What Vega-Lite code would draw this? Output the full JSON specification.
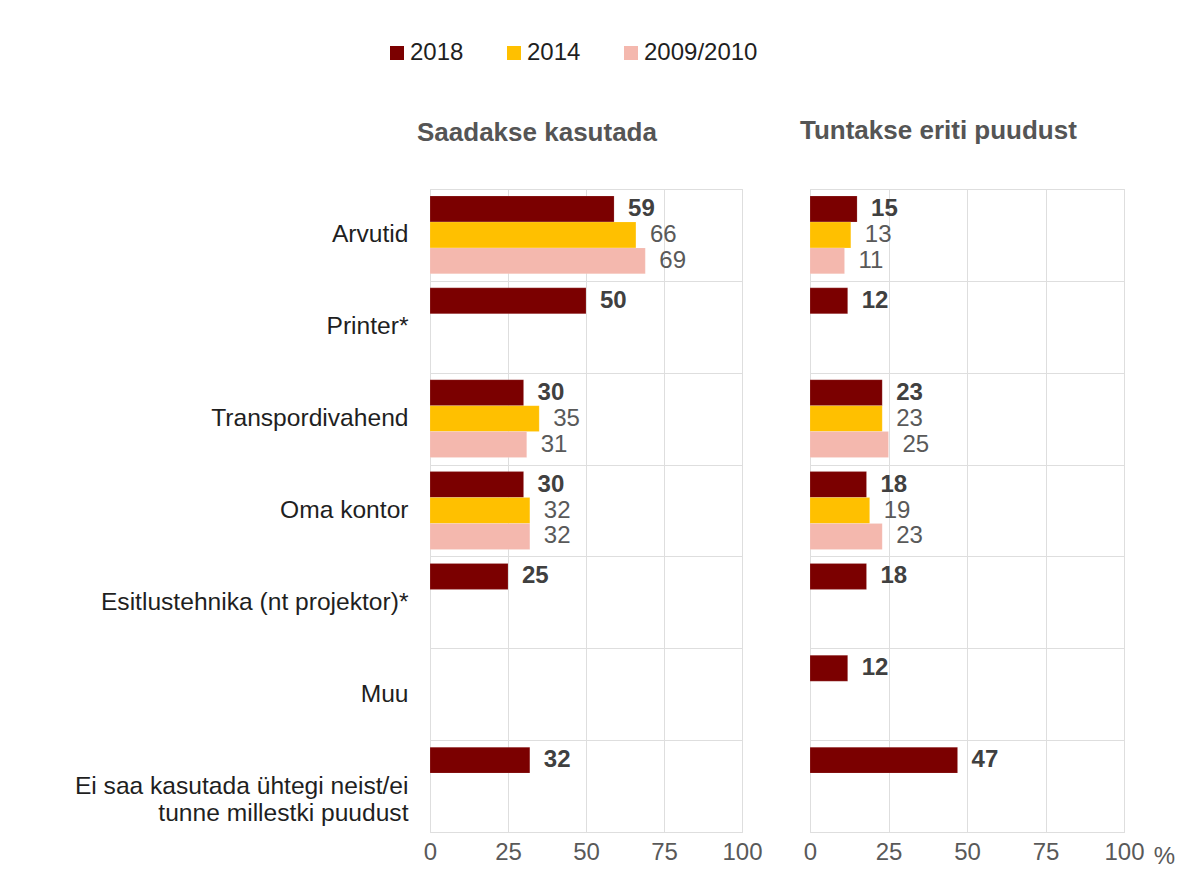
{
  "$schema": "https://vega.github.io/schema/vega-lite/v6.json",
  "padding": {"left": 73, "top": 41, "right": 5, "bottom": 5},
  "background": "white",
  "data": {"values": [
    {"panel": "L", "item": "Arvutid", "series": "2018", "value": 59},
    {"panel": "L", "item": "Arvutid", "series": "2014", "value": 66},
    {"panel": "L", "item": "Arvutid", "series": "2009/2010", "value": 69},
    {"panel": "L", "item": "Printer*", "series": "2018", "value": 50},
    {"panel": "L", "item": "Transpordivahend", "series": "2018", "value": 30},
    {"panel": "L", "item": "Transpordivahend", "series": "2014", "value": 35},
    {"panel": "L", "item": "Transpordivahend", "series": "2009/2010", "value": 31},
    {"panel": "L", "item": "Oma kontor", "series": "2018", "value": 30},
    {"panel": "L", "item": "Oma kontor", "series": "2014", "value": 32},
    {"panel": "L", "item": "Oma kontor", "series": "2009/2010", "value": 32},
    {"panel": "L", "item": "Esitlustehnika (nt projektor)*", "series": "2018", "value": 25},
    {"panel": "L", "item": "Ei saa", "series": "2018", "value": 32},
    {"panel": "R", "item": "Arvutid", "series": "2018", "value": 15},
    {"panel": "R", "item": "Arvutid", "series": "2014", "value": 13},
    {"panel": "R", "item": "Arvutid", "series": "2009/2010", "value": 11},
    {"panel": "R", "item": "Printer*", "series": "2018", "value": 12},
    {"panel": "R", "item": "Transpordivahend", "series": "2018", "value": 23},
    {"panel": "R", "item": "Transpordivahend", "series": "2014", "value": 23},
    {"panel": "R", "item": "Transpordivahend", "series": "2009/2010", "value": 25},
    {"panel": "R", "item": "Oma kontor", "series": "2018", "value": 18},
    {"panel": "R", "item": "Oma kontor", "series": "2014", "value": 19},
    {"panel": "R", "item": "Oma kontor", "series": "2009/2010", "value": 23},
    {"panel": "R", "item": "Esitlustehnika (nt projektor)*", "series": "2018", "value": 18},
    {"panel": "R", "item": "Muu", "series": "2018", "value": 12},
    {"panel": "R", "item": "Ei saa", "series": "2018", "value": 47}
  ]},
  "spacing": 68,
  "bounds": "flush",
  "hconcat": [
    {
      "width": 312,
      "height": 643,
      "title": {"text": "Saadakse kasutada", "anchor": "start", "frame": "group", "dx": -13, "offset": 30, "fontSize": 26, "fontWeight": "bold", "color": "#555555", "font": "Liberation Sans"},
      "transform": [{"filter": "datum.panel == 'L'"}],
      "encoding": {
        "y": {"field": "item", "type": "nominal",
          "scale": {"domain": ["Arvutid", "Printer*", "Transpordivahend", "Oma kontor", "Esitlustehnika (nt projektor)*", "Muu", "Ei saa"], "paddingInner": 0, "paddingOuter": 0},
          "axis": {"title": null, "grid": true, "tickBand": "extent", "ticks": false, "domain": false, "labelPadding": 22, "labelFontSize": 24.6, "labelLimit": 0, "labelColor": "#1f1f1f", "labelFont": "Liberation Sans", "gridColor": "#dedede", "labelLineHeight": 27,
            "labelExpr": "datum.value == 'Ei saa' ? ['Ei saa kasutada ühtegi neist/ei', 'tunne millestki puudust'] : datum.label"}},
        "yOffset": {"field": "series", "type": "nominal", "scale": {"domain": ["2018", "2014", "2009/2010"], "paddingInner": 0, "paddingOuter": 0.27}},
        "x": {"field": "value", "type": "quantitative", "scale": {"domain": [0, 100]},
          "axis": {"title": null, "values": [0, 25, 50, 75, 100], "grid": true, "gridColor": "#dedede", "ticks": false, "domain": false, "labelFlush": false, "labelFontSize": 24, "labelColor": "#595959", "labelPadding": 8, "labelFont": "Liberation Sans"}}
      },
      "layer": [
        {"mark": {"type": "bar", "stroke": "#ffffff", "strokeWidth": 0.5, "strokeOpacity": 0.3},
          "encoding": {"color": {"field": "series", "type": "nominal", "scale": {"domain": ["2018", "2014", "2009/2010"], "range": ["#7b0000", "#ffc000", "#f4b8ae"]}, "legend": {"title": null}}}},
        {"transform": [{"filter": "datum.series == '2018'"}],
          "mark": {"type": "text", "align": "left", "dx": 14, "fontSize": 24, "fontWeight": "bold", "color": "#404040", "font": "Liberation Sans"},
          "encoding": {"text": {"field": "value", "type": "quantitative"}}},
        {"transform": [{"filter": "datum.series != '2018'"}],
          "mark": {"type": "text", "align": "left", "dx": 14, "fontSize": 24, "color": "#595959", "font": "Liberation Sans"},
          "encoding": {"text": {"field": "value", "type": "quantitative"}}}
      ]
    },
    {
      "width": 314,
      "height": 643,
      "title": {"text": "Tuntakse eriti puudust", "anchor": "start", "frame": "group", "dx": -10, "offset": 45, "fontSize": 26, "fontWeight": "bold", "color": "#555555", "font": "Liberation Sans"},
      "transform": [{"filter": "datum.panel == 'R'"}],
      "encoding": {
        "y": {"field": "item", "type": "nominal",
          "scale": {"domain": ["Arvutid", "Printer*", "Transpordivahend", "Oma kontor", "Esitlustehnika (nt projektor)*", "Muu", "Ei saa"], "paddingInner": 0, "paddingOuter": 0},
          "axis": {"title": null, "grid": true, "tickBand": "extent", "ticks": false, "domain": false, "labels": false, "gridColor": "#dedede"}},
        "yOffset": {"field": "series", "type": "nominal", "scale": {"domain": ["2018", "2014", "2009/2010"], "paddingInner": 0, "paddingOuter": 0.27}},
        "x": {"field": "value", "type": "quantitative", "scale": {"domain": [0, 100]},
          "axis": {"title": "%", "titleFontSize": 24, "titleFontWeight": "normal", "titleColor": "#595959", "titleFont": "Liberation Sans", "titleX": 354, "titleY": 12, "values": [0, 25, 50, 75, 100], "grid": true, "gridColor": "#dedede", "ticks": false, "domain": false, "labelFlush": false, "labelFontSize": 24, "labelColor": "#595959", "labelPadding": 8, "labelFont": "Liberation Sans"}}
      },
      "layer": [
        {"mark": {"type": "bar", "stroke": "#ffffff", "strokeWidth": 0.5, "strokeOpacity": 0.3},
          "encoding": {"color": {"field": "series", "type": "nominal", "scale": {"domain": ["2018", "2014", "2009/2010"], "range": ["#7b0000", "#ffc000", "#f4b8ae"]}, "legend": {"title": null}}}},
        {"transform": [{"filter": "datum.series == '2018'"}],
          "mark": {"type": "text", "align": "left", "dx": 14, "fontSize": 24, "fontWeight": "bold", "color": "#404040", "font": "Liberation Sans"},
          "encoding": {"text": {"field": "value", "type": "quantitative"}}},
        {"transform": [{"filter": "datum.series != '2018'"}],
          "mark": {"type": "text", "align": "left", "dx": 14, "fontSize": 24, "color": "#595959", "font": "Liberation Sans"},
          "encoding": {"text": {"field": "value", "type": "quantitative"}}}
      ]
    }
  ],
  "config": {
    "font": "Liberation Sans",
    "view": {"stroke": "#d9d9d9"},
    "legend": {"orient": "none", "legendX": -45, "legendY": -148, "direction": "horizontal", "symbolType": "square", "symbolSize": 196, "symbolStrokeWidth": 0, "labelFontSize": 24, "labelColor": "#1f1f1f", "labelFont": "Liberation Sans", "labelOffset": 1, "columnPadding": 38}
  }
}
